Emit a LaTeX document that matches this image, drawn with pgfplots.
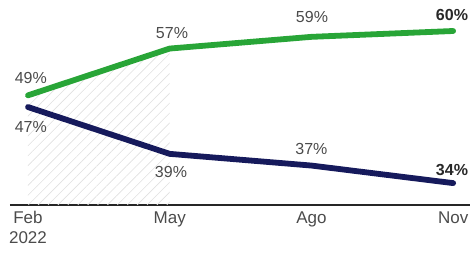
\documentclass[border=0pt]{standalone}
\usepackage{fontspec}
\setmainfont{Liberation Sans}
\usepackage{pgfplots}
\pgfplotsset{compat=1.18}
\usetikzlibrary{patterns.meta}
\definecolor{cgreen}{RGB}{40,165,55}
\definecolor{cblue}{RGB}{22,26,92}
\definecolor{ctext}{RGB}{75,75,75}
\definecolor{cdark}{RGB}{40,40,40}
\begin{document}
\begin{tikzpicture}
\useasboundingbox (-10pt,-48pt) rectangle (464pt,205pt);
\begin{axis}[
  at={(0,0)}, anchor=south west, scale only axis, width=460pt, height=205pt,
  xmin=-0.127, xmax=3.119, ymin=30.26, ymax=65.3,
  axis y line=none, axis x line*=bottom,
  x axis line style={-, black!85, line width=1.4pt},
  xtick={0,1,2,3}, xticklabels={{Feb\\2022},May,Ago,Nov},
  xticklabel style={font=\fontsize{17}{19.5}\selectfont, text=ctext, align=center, anchor=north, yshift=-3pt},
  major tick length=0, clip=false,
]
\addplot[draw=none, pattern={Lines[angle=45,distance=7pt,line width=0.6pt]}, pattern color=black!12] coordinates {(0,30.26) (0,49) (1,57) (1,30.26)} -- cycle;
\addplot[cgreen, line width=5.8pt, line cap=round, line join=round] coordinates {(0,49) (1,57) (2,59) (3,60)};
\addplot[cblue, line width=5.8pt, line cap=round, line join=round] coordinates {(0,47) (1,39) (2,37) (3,34)};
\begin{scope}[every node/.style={font=\fontsize{16}{18}\selectfont, text=ctext, anchor=center, inner sep=0pt}]
\node at (axis cs:0.02,51.97) {49\%};
\node at (axis cs:0.02,43.59) {47\%};
\node at (axis cs:1.016,59.66) {57\%};
\node at (axis cs:2.004,62.39) {59\%};
\node at (axis cs:1.009,35.9) {39\%};
\node at (axis cs:2.0,39.83) {37\%};
\node[text=cdark, font=\fontsize{16}{18}\selectfont\bfseries] at (axis cs:2.992,62.74) {60\%};
\node[text=cdark, font=\fontsize{16}{18}\selectfont\bfseries] at (axis cs:2.992,36.24) {34\%};
\end{scope}
\end{axis}
\end{tikzpicture}
\end{document}
